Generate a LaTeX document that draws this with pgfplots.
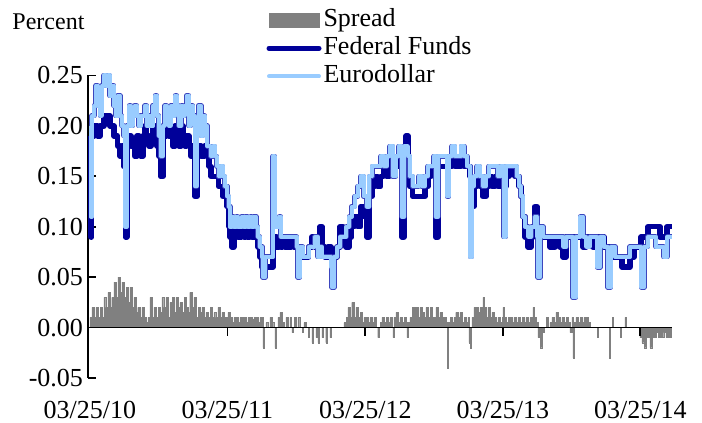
\documentclass[border=0pt]{standalone}
\usepackage{pgfplots}
\pgfplotsset{compat=1.18}
\usepackage{pgfplotstable}
\usepackage{fontspec}
\setmainfont{Liberation Serif}
\definecolor{ffblue}{RGB}{0,0,153}
\definecolor{edblue}{RGB}{153,204,255}
\definecolor{ededge}{RGB}{60,70,190}
\definecolor{spreadgray}{RGB}{128,128,128}

\pgfplotstableread{
day ff ed
0 0.19 0.20
3 0.09 0.11
5 0.19 0.21
11 0.20 0.22
16 0.20 0.24
21 0.19 0.22
27 0.20 0.21
32 0.20 0.24
37 0.21 0.25
42 0.21 0.24
48 0.21 0.25
53 0.20 0.23
58 0.20 0.24
64 0.19 0.22
69 0.19 0.21
74 0.18 0.23
80 0.17 0.21
85 0.18 0.20
90 0.16 0.19
94 0.09 0.10
98 0.18 0.20
104 0.19 0.22
109 0.18 0.20
114 0.18 0.21
119 0.17 0.22
125 0.19 0.21
130 0.18 0.20
135 0.17 0.21
141 0.19 0.21
146 0.20 0.22
151 0.19 0.20
157 0.18 0.21
162 0.19 0.20
167 0.20 0.22
173 0.19 0.23
178 0.18 0.21
183 0.17 0.19
188 0.15 0.17
194 0.19 0.20
199 0.19 0.22
204 0.20 0.21
210 0.19 0.20
215 0.19 0.22
220 0.18 0.21
226 0.20 0.23
231 0.19 0.22
236 0.18 0.20
242 0.20 0.22
247 0.19 0.21
252 0.18 0.22
257 0.19 0.23
263 0.18 0.20
268 0.17 0.22
273 0.18 0.21
279 0.13 0.14
284 0.17 0.20
289 0.18 0.22
295 0.17 0.19
300 0.17 0.21
305 0.18 0.20
311 0.17 0.18
316 0.16 0.18
321 0.15 0.17
327 0.15 0.18
332 0.15 0.17
337 0.15 0.16
342 0.14 0.15
348 0.14 0.16
353 0.13 0.15
358 0.14 0.14
364 0.12 0.13
369 0.10 0.12
372 0.09 0.10
377 0.08 0.11
382 0.09 0.10
388 0.10 0.11
393 0.09 0.10
398 0.09 0.10
403 0.10 0.11
409 0.09 0.10
414 0.10 0.11
419 0.09 0.10
425 0.10 0.11
430 0.09 0.10
435 0.09 0.11
441 0.09 0.10
446 0.08 0.09
451 0.07 0.08
457 0.06 0.07
459 0.06 0.05
465 0.06 0.07
472 0.06 0.07
480 0.06 0.07
486 0.08 0.17
491 0.09 0.10
496 0.08 0.10
502 0.09 0.11
507 0.08 0.09
512 0.09 0.09
518 0.08 0.09
526 0.08 0.09
534 0.09 0.09
542 0.08 0.09
549 0.08 0.08
552 0.08 0.05
557 0.07 0.08
565 0.07 0.07
573 0.07 0.07
581 0.08 0.08
589 0.09 0.08
597 0.08 0.09
605 0.08 0.07
611 0.10 0.08
616 0.08 0.07
624 0.07 0.07
632 0.08 0.07
640 0.07 0.06
642 0.07 0.04
648 0.07 0.07
656 0.08 0.08
664 0.10 0.09
672 0.09 0.09
680 0.08 0.10
688 0.09 0.11
695 0.10 0.12
703 0.11 0.13
711 0.10 0.14
719 0.12 0.15
727 0.11 0.13
735 0.09 0.12
741 0.13 0.15
749 0.14 0.16
757 0.15 0.16
764 0.14 0.16
772 0.15 0.17
780 0.16 0.16
788 0.15 0.17
796 0.17 0.18
804 0.16 0.15
812 0.16 0.17
820 0.17 0.18
828 0.09 0.11
834 0.17 0.18
839 0.19 0.18
844 0.16 0.17
849 0.14 0.15
857 0.13 0.14
865 0.13 0.14
873 0.13 0.15
881 0.13 0.14
889 0.14 0.15
897 0.15 0.16
905 0.16 0.16
913 0.16 0.17
918 0.09 0.11
924 0.16 0.17
932 0.16 0.17
940 0.16 0.17
948 0.16 0.13
953 0.16 0.17
961 0.17 0.18
969 0.16 0.17
977 0.16 0.17
985 0.17 0.18
993 0.16 0.17
1001 0.16 0.16
1009 0.15 0.07
1014 0.12 0.14
1019 0.14 0.15
1027 0.15 0.16
1035 0.14 0.15
1043 0.13 0.14
1051 0.14 0.15
1059 0.15 0.16
1067 0.14 0.16
1075 0.15 0.16
1083 0.14 0.15
1091 0.15 0.16
1098 0.14 0.09
1104 0.15 0.16
1112 0.16 0.16
1120 0.16 0.16
1128 0.15 0.16
1133 0.15 0.15
1139 0.14 0.14
1144 0.13 0.13
1149 0.11 0.11
1155 0.09 0.10
1163 0.08 0.09
1171 0.09 0.10
1176 0.10 0.10
1181 0.12 0.11
1187 0.10 0.09
1189 0.09 0.05
1195 0.09 0.10
1203 0.09 0.09
1221 0.08 0.09
1234 0.09 0.09
1248 0.08 0.09
1256 0.07 0.08
1264 0.09 0.09
1274 0.09 0.09
1282 0.09 0.03
1290 0.09 0.09
1301 0.09 0.11
1309 0.08 0.09
1317 0.09 0.08
1327 0.09 0.09
1335 0.08 0.09
1346 0.09 0.06
1354 0.09 0.09
1364 0.08 0.08
1375 0.08 0.04
1383 0.07 0.08
1394 0.07 0.07
1404 0.07 0.07
1412 0.06 0.07
1423 0.06 0.07
1433 0.07 0.08
1444 0.08 0.08
1455 0.08 0.08
1463 0.09 0.04
1471 0.09 0.08
1481 0.10 0.09
1492 0.10 0.09
1502 0.10 0.08
1513 0.09 0.08
1523 0.09 0.07
1532 0.10 0.09
1542 0.10 0.09
1545 0.10 0.09
}\rates

\pgfplotstableread{
day s
-3 0
0 0.01
5 0.02
11 0.01
16 0.02
21 0.01
27 0.02
32 0.01
37 0.03
42 0.02
48 0.035
53 0.02
58 0.03
64 0.045
69 0.03
74 0.05
80 0.035
85 0.045
90 0.03
96 0.04
101 0.025
106 0.04
112 0.02
117 0.03
122 0.015
127 0.02
133 0.01
138 0.02
143 0.01
149 0.005
154 0.01
159 0.03
165 0.01
170 0.02
175 0.01
181 0.02
186 0.015
191 0.03
196 0.02
202 0.03
207 0.01
212 0.025
218 0.03
223 0.015
228 0.03
234 0.02
239 0.025
244 0.015
250 0.03
255 0.02
260 0.015
265 0.035
271 0.02
276 0.03
281 0.01
287 0.02
292 0.015
297 0.02
303 0.01
308 0.015
313 0.01
319 0.02
324 0.01
329 0.015
334 0.01
340 0.02
345 0.01
350 0.015
356 0.01
361 0.01
366 0.015
372 0.01
377 0.005
382 0.01
388 0.01
393 0.005
398 0.01
403 0.01
409 0.01
414 0.005
419 0.01
425 0.01
430 0.008
435 0.01
441 0.01
446 0.005
451 0.01
457 0.01
459 -0.02
462 0
467 0.005
472 0
478 0.01
483 0.005
488 0
491 -0.02
494 0
499 0.01
504 0.015
510 0.005
515 0
520 0.01
526 0
531 0.01
534 0
536 -0.005
539 0
542 0.01
547 0
552 0.01
557 0
563 -0.005
566 0
568 0.005
573 0
579 -0.01
582 0
589 -0.015
592 0
600 -0.01
603 0
605 -0.015
608 0
616 -0.01
619 0
626 -0.015
629 0
637 -0.01
640 0
674 0.005
680 0.01
685 0.02
690 0.01
695 0.025
701 0.01
706 0.02
711 0.01
717 0.015
722 0.005
727 0.01
732 0.01
738 0.005
743 0.01
749 0.005
754 0.01
759 0
764 -0.01
767 0
770 0.005
775 0.01
780 0.005
786 0.01
791 0.005
796 0.01
802 0
804 -0.01
807 0.01
812 0.015
818 0.005
823 0.01
828 0.005
834 0.01
839 0.005
841 -0.01
844 0.005
849 0.01
855 0.02
860 0.02
865 0.02
871 0.01
876 0.02
881 0.015
887 0.01
892 0.02
897 0.01
903 0.02
908 0.01
913 0.01
918 0.02
924 0.01
929 0.015
934 0.01
940 0.01
945 0.005
948 -0.04
950 0.005
956 0.01
961 0.005
966 0.01
971 0.015
977 0.01
982 0.015
987 0.005
993 0.01
998 0.005
1003 0.01
1006 -0.015
1009 -0.02
1011 0
1014 0.01
1019 0.02
1025 0.02
1030 0.015
1035 0.02
1040 0.02
1043 0.03
1046 0.02
1051 0.01
1056 0.02
1062 0.01
1067 0.015
1072 0.01
1078 0.005
1083 0.01
1088 0.005
1094 0.01
1096 0.02
1099 0.01
1104 0.005
1110 0.01
1115 0.01
1120 0.005
1125 0.01
1131 0.005
1136 0.01
1141 0.005
1147 0.01
1152 0.005
1157 0.01
1163 0.005
1168 0.01
1173 0.005
1176 0.02
1179 0.01
1184 0.005
1189 -0.01
1195 -0.02
1200 -0.005
1205 0
1211 0.01
1216 0
1221 0.005
1226 0.01
1232 0.005
1237 0.015
1242 0.01
1248 0.005
1253 0.01
1258 0.005
1264 0.01
1269 0.005
1274 -0.005
1279 0.01
1282 -0.03
1285 0.005
1290 0.01
1295 0.005
1301 0.01
1306 0.005
1311 0.01
1317 0.01
1322 0.005
1327 0
1343 0
1346 -0.01
1348 0
1375 0
1378 -0.03
1380 0
1386 0.01
1389 0
1405 0
1407 -0.01
1410 0
1420 0.01
1423 0
1457 0
1460 -0.01
1465 -0.015
1471 -0.02
1476 -0.01
1481 -0.01
1486 -0.02
1492 -0.01
1497 -0.01
1502 -0.005
1508 -0.01
1513 -0.01
1518 -0.01
1523 -0.005
1529 -0.01
1534 -0.01
1540 -0.01
1542 0
}\spread

\begin{document}
\begin{tikzpicture}[font=\fontsize{13}{15}\selectfont]
\useasboundingbox (-44pt,-22.5pt) rectangle (307pt,189pt);
\begin{axis}[
  scale only axis, width=292pt, height=151.25pt,
  xmin=-5, xmax=1545, ymin=-0.05, ymax=0.25,
  axis lines=left,
  axis line style={-, line width=0.9pt},
  x axis line style={draw=none},
  xtick={0,365,731,1096,1461},
  xticklabels={03/25/10,03/25/11,03/25/12,03/25/13,03/25/14},
  xtick style={draw=none},
  xticklabel style={yshift=-8pt},
  ytick={-0.05,0,0.05,0.1,0.15,0.2,0.25},
  ytick style={line width=0.9pt, black},
  tick align=inside,
  major tick length=4pt,
  yticklabel style={/pgf/number format/fixed, /pgf/number format/fixed zerofill, /pgf/number format/precision=2, xshift=1pt},
  /pgf/number format/assume math mode=true,
  tick label style={font=\fontsize{13}{15}\selectfont},
  clip=false,
  legend style={at={(0.305,1.230)}, anchor=north west, draw=none, fill=none, inner sep=0pt, row sep=0pt,
    font=\fontsize{13}{15}\selectfont,
    nodes={inner sep=1pt, text height=9pt, text depth=3pt}},
  legend cell align=left,
]
\addplot[const plot, fill=spreadgray, draw=spreadgray, line width=0.2pt,
  legend image code/.code={\fill[spreadgray] (0pt,-3.5pt) rectangle (25pt,3.5pt);}]
  table[x=day, y=s]{\spread} \closedcycle;
\addlegendentry{Spread}
\addplot[const plot, ffblue, line width=2.7pt, line join=round,
  legend image code/.code={\draw[ffblue, line width=2.5pt, line cap=round] (0pt,0pt) -- (25pt,0pt);}]
  table[x=day, y=ff]{\rates};
\addlegendentry{Federal Funds}
\addplot[const plot, ededge, line width=2.5pt, line join=round, forget plot]
  table[x=day, y=ed]{\rates};
\addplot[const plot, edblue, line width=2pt, line join=round,
  legend image code/.code={\draw[edblue, line width=2pt, line cap=round] (0pt,0pt) -- (25pt,0pt);}]
  table[x=day, y=ed]{\rates};
\addlegendentry{Eurodollar}
\node[anchor=west, inner sep=0pt, font=\fontsize{12}{14}\selectfont] at (rel axis cs:-0.13,1.176) {Percent};
\end{axis}
\begin{axis}[
  scale only axis, width=292pt, height=151.25pt,
  xmin=-5, xmax=1545, ymin=-0.05, ymax=0.25,
  axis x line=middle, axis y line=none,
  x axis line style={-, line width=0.9pt},
  xtick={365,731,1096,1461}, xticklabels={},
  ytick=\empty,
  tick align=outside, major tick length=4pt,
  xtick style={line width=0.9pt, black},
]
\end{axis}
\end{tikzpicture}
\end{document}
